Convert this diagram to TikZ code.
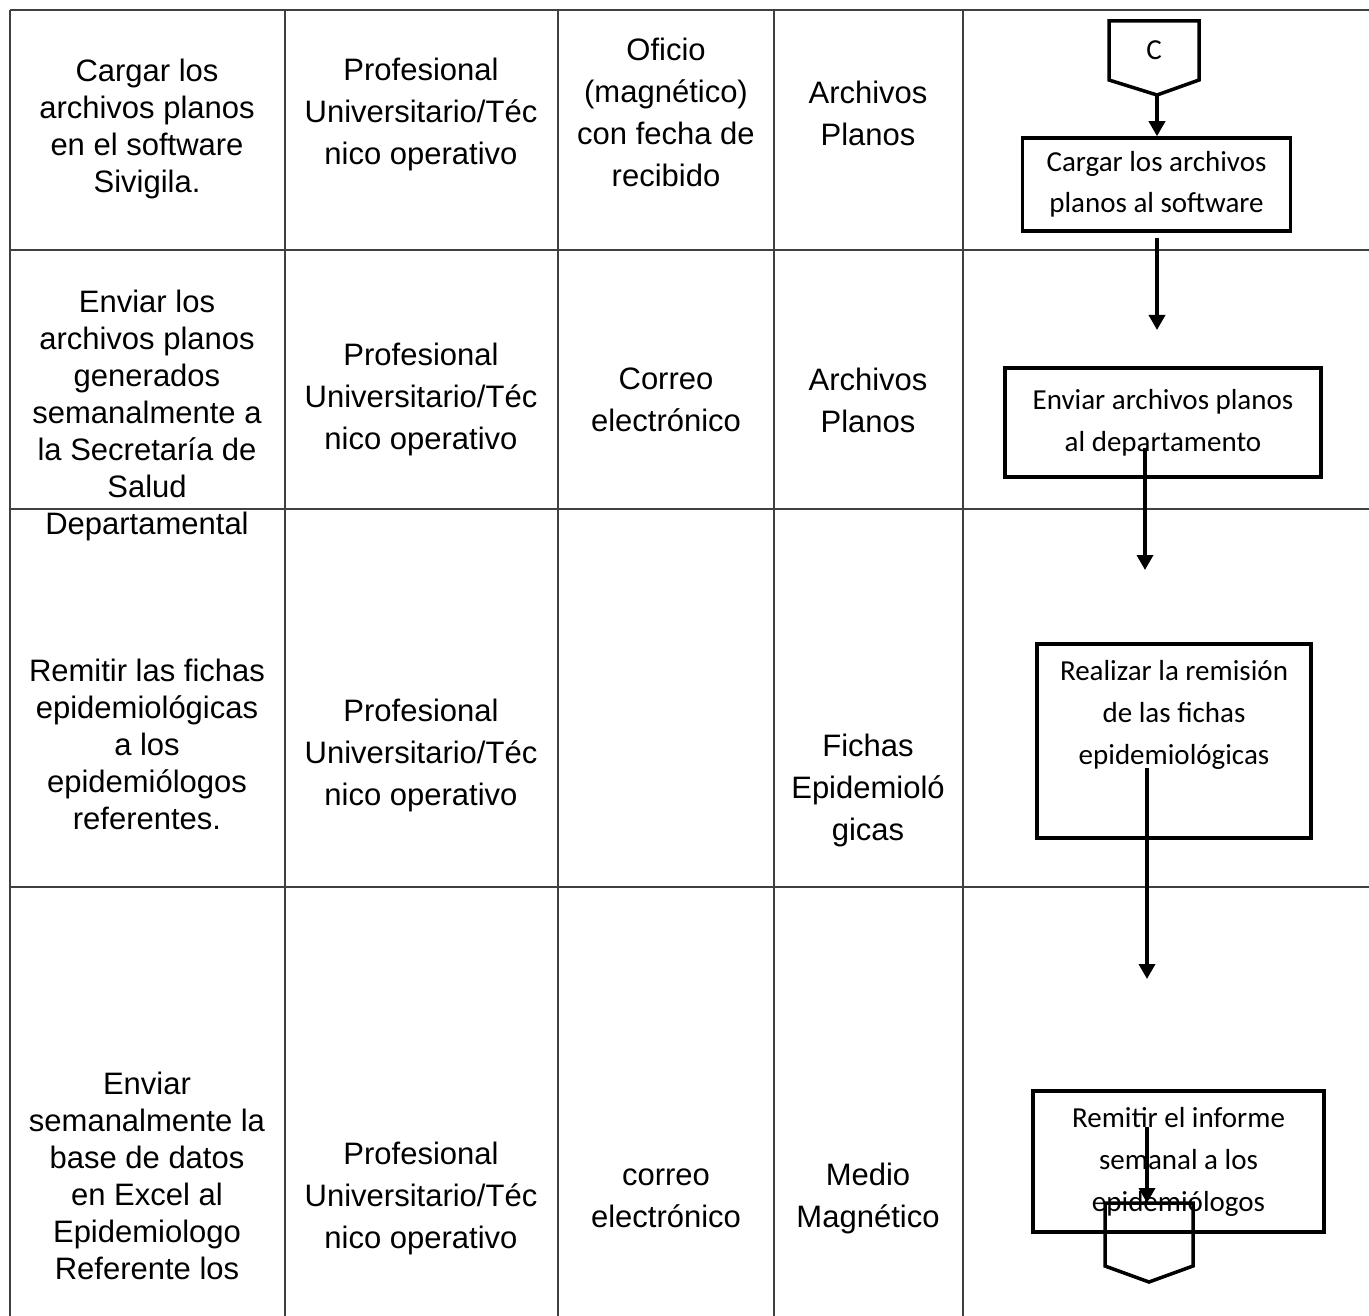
\documentclass[tikz,border=0pt]{standalone}
\usepackage{fontspec}
\setmainfont{Liberation Sans}
\newfontfamily\calfont{Carlito}
\usetikzlibrary{arrows.meta}
\begin{document}
\begin{tikzpicture}[x=1pt,y=-1pt,
  grid/.style={line width=1.1pt, draw=black!75},
  cellA/.style={align=center, font=\fontsize{31}{37}\selectfont, inner sep=0pt},
  cellB/.style={align=center, font=\fontsize{31}{42}\selectfont, inner sep=0pt},
  fbox/.style={draw, line width=3.5pt, rectangle, inner sep=0pt, align=center,
               font=\calfont\fontsize{29}{41}\selectfont},
  ftext/.style={align=center, inner sep=0pt, font=\calfont\fontsize{29}{42}\selectfont},
  fline/.style={line width=3.5pt, line join=miter},
  flow/.style={line width=3.5pt, -{Triangle[width=16pt,length=15pt]}},
]
\useasboundingbox[fill=white] (0,0) rectangle (1369,1316);

% table grid
\draw[grid] (10,10) -- (1369,10);
\draw[grid] (10,250) -- (1369,250);
\draw[grid] (10,509) -- (1369,509);
\draw[grid] (10,887) -- (1369,887);
\foreach \x in {10,285,558,774,963} \draw[grid] (\x,10) -- (\x,1316);

% column 1
\node[cellA] (t11) at (147,129) {Cargar los\\archivos planos\\en el software\\Sivigila.};
\node[cellA] (t12) at (147,415) {Enviar los\\archivos planos\\generados\\semanalmente a\\la Secretaría de\\Salud\\Departamental};
\node[cellA] (t13) at (147,744) {Remitir las fichas\\epidemiológicas\\a los\\epidemiólogos\\referentes.};
\node[cellA] (t14) at (147,1176) {Enviar\\semanalmente la\\base de datos\\en Excel al\\Epidemiologo\\Referente los};

% column 2
\node[cellB] (t21) at (421,114) {Profesional\\Universitario/Téc\\nico operativo};
\node[cellB] (t22) at (421,399) {Profesional\\Universitario/Téc\\nico operativo};
\node[cellB] (t23) at (421,755) {Profesional\\Universitario/Téc\\nico operativo};
\node[cellB] (t24) at (421,1198) {Profesional\\Universitario/Téc\\nico operativo};

% column 3
\node[cellB] (t31) at (666,112) {Oficio\\(magnético)\\con fecha de\\recibido};
\node[cellB] (t32) at (666,400) {Correo\\electrónico};
\node[cellB] (t34) at (666,1198) {correo\\electrónico};

% column 4
\node[cellB] (t41) at (868,113) {Archivos\\Planos};
\node[cellB] (t42) at (868,400) {Archivos\\Planos};
\node[cellB] (t43) at (868,790) {Fichas\\Epidemioló\\gicas};
\node[cellB] (t44) at (868,1198) {Medio\\Magnético};

% flowchart
\draw[fline] (1109,21) -- (1199,21) -- (1199,80) -- (1157,95) -- (1109,80) -- cycle;
\node[inner sep=0pt, font=\calfont\fontsize{29}{32}\selectfont] (cc) at (1154,50) {C};
\coordinate (cbot) at (1157,95);

\node[fbox, minimum width=268pt, minimum height=93pt] (b1) at (1156.5,184.5)
  {Cargar los archivos\\planos al software};
\node[fbox, minimum width=316pt, minimum height=109pt, font=\calfont\fontsize{29}{42}\selectfont] (b2) at (1163,422.5)
  {Enviar archivos planos\\al departamento};
\node[fbox, minimum width=274pt, minimum height=194pt] (b3) at (1174,741) {};
\node[ftext] (b3t) at (1174,715) {Realizar la remisión\\de las fichas\\epidemiológicas};
\node[fbox, minimum width=291pt, minimum height=141pt, font=\calfont\fontsize{29}{42}\selectfont] (b4) at (1178.5,1161.5)
  {Remitir el informe\\semanal a los\\epidemiólogos};

\draw[fline] (1105,1203) -- (1193,1203) -- (1193,1266) -- (1149,1282) -- (1105,1266) -- cycle;
\coordinate (ctop) at (1147,1203);

\coordinate (a2s) at (1157,238);
\coordinate (a2e) at (1157,330);
\coordinate (a3s) at (1145,448);
\coordinate (a3e) at (1145,570);
\coordinate (a4s) at (1147,768);
\coordinate (a4e) at (1147,979);
\coordinate (a5s) at (1147,1127);

\draw[flow] (cbot) -- (b1.north -| cbot);
\draw[flow] (a2s) -- (a2e);
\draw[flow] (a3s) -- (a3e);
\draw[flow] (a4s) -- (a4e);
\draw[flow] (a5s) -- (ctop);
\end{tikzpicture}
\end{document}
